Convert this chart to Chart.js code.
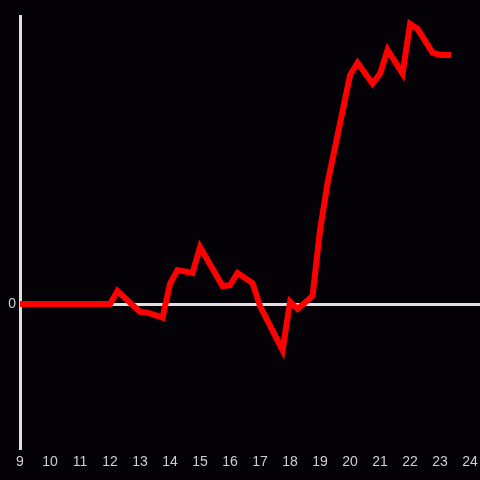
<!DOCTYPE html>
<html>
<head>
<meta charset="utf-8">
<script src="https://cdn.jsdelivr.net/npm/chart.js@4/dist/chart.umd.min.js"></script>
<style>
  html, body { margin: 0; padding: 0; background: #040206; }
  #wrap { width: 480px; height: 480px; }
</style>
</head>
<body>
<div id="wrap"><canvas id="c" width="480" height="480"></canvas></div>
<script>
// hour of day and value
var hours  = [9.0, 12.0, 12.25, 13.0, 13.25, 13.75, 14.0, 14.25, 14.75, 15.0,
              15.75, 16.0, 16.25, 16.75, 17.0, 17.75, 18.0, 18.25, 18.75, 19.0,
              19.25, 19.5, 20.0, 20.25, 20.75, 21.0, 21.25, 21.75, 22.0, 22.25,
              22.75, 23.0, 23.37];
var values = [0, 0, 0.09, -0.055, -0.06, -0.095, 0.14, 0.235, 0.215, 0.395,
              0.125, 0.13, 0.215, 0.145, -0.015, -0.32, 0.015, -0.035, 0.055, 0.515,
              0.84, 1.09, 1.59, 1.675, 1.53, 1.6, 1.765, 1.6, 1.945, 1.91,
              1.745, 1.73, 1.73];
var xTickValues = [9, 10, 11, 12, 13, 14, 15, 16, 17, 18, 19, 20, 21, 22, 23, 24];
var xMin = 9, xMax = 24.33;
var yMin = -1, yMax = 2;
var yTickValues = [0];

var points = hours.map(function (h, i) { return { x: h, y: values[i] }; });

new Chart(document.getElementById('c'), {
  type: 'line',
  data: {
    datasets: [{
      data: points,
      borderColor: '#ff0000',
      borderWidth: 6,
      pointRadius: 0,
      tension: 0,
      fill: false
    }]
  },
  options: {
    responsive: false,
    animation: false,
    layout: { padding: { top: 16, right: 0, left: 0, bottom: 0 } },
    plugins: { legend: { display: false }, tooltip: { enabled: false } },
    scales: {
      x: {
        type: 'linear',
        min: xMin, max: xMax,
        afterBuildTicks: function (s) { s.ticks = xTickValues.map(function (v) { return { value: v }; }); },
        ticks: { autoSkip: false, color: '#cfcfcf', font: { size: 14, family: 'Liberation Sans, Arial, sans-serif' }, padding: 6, maxRotation: 0 },
        grid: { display: false, drawTicks: false },
        border: { display: false },
        afterFit: function (s) { s.height = 32; s.paddingLeft = 0; s.paddingRight = 0; }
      },
      y: {
        min: yMin, max: yMax,
        afterBuildTicks: function (s) { s.ticks = yTickValues.map(function (v) { return { value: v }; }); },
        ticks: { color: '#cfcfcf', font: { size: 14, family: 'Liberation Sans, Arial, sans-serif' }, padding: 4 },
        grid: { color: '#e0e0e0', lineWidth: 3, drawTicks: false },
        border: { display: true, color: '#e0e0e0', width: 3 },
        afterFit: function (s) { s.width = 20; s.paddingTop = 0; s.paddingBottom = 0; }
      }
    }
  },
  plugins: [{
    id: 'bg',
    beforeDraw: function (chart) {
      var ctx = chart.ctx;
      ctx.save();
      ctx.fillStyle = '#040206';
      ctx.fillRect(0, 0, chart.width, chart.height);
      ctx.restore();
    }
  }]
});
</script>
</body>
</html>
